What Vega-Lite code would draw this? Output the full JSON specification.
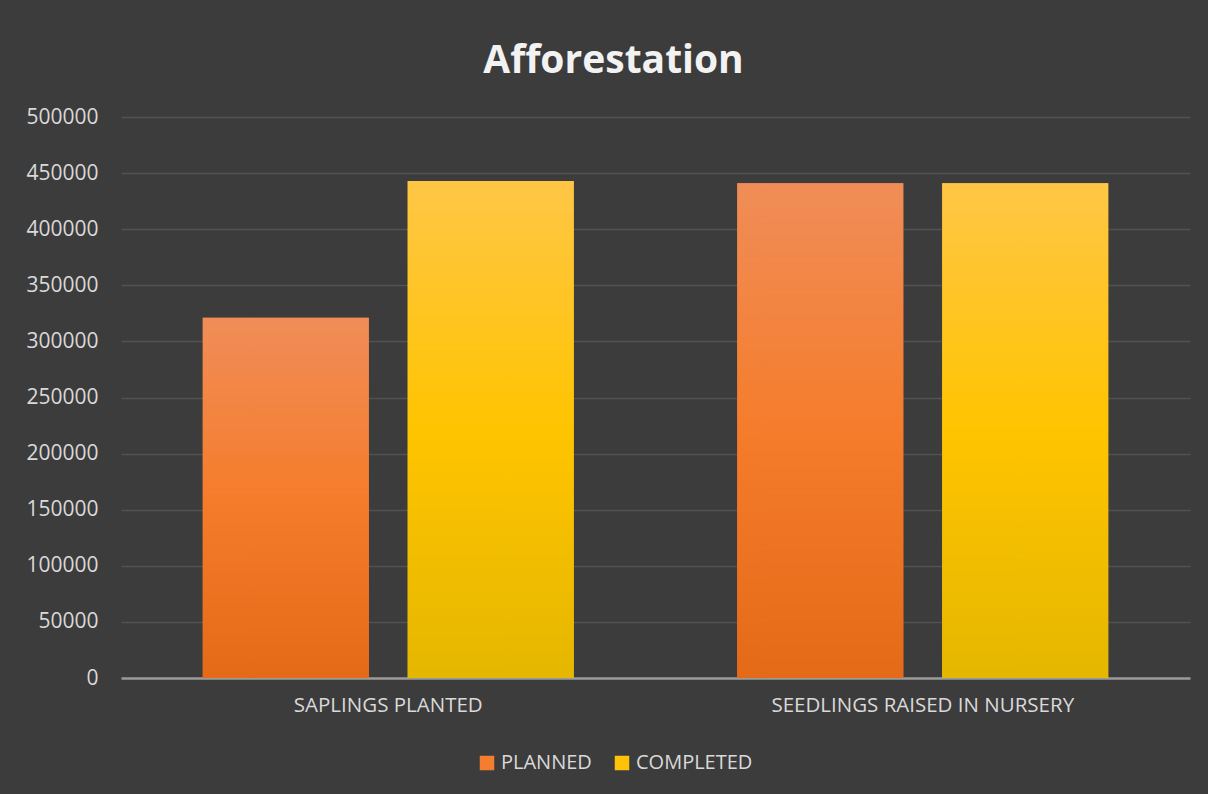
{
  "$schema": "https://vega.github.io/schema/vega-lite/v6.json",
  "width": 1069,
  "height": 561,
  "autosize": {"type": "none"},
  "padding": {"left": 121, "top": 117, "right": 18, "bottom": 116},
  "background": "#3c3c3c",
  "config": {"view": {"stroke": null}},
  "title": {
    "text": "Afforestation",
    "font": "Open Sans",
    "fontSize": 39,
    "fontWeight": "bold",
    "color": "#f2f2f2",
    "anchor": "middle",
    "dx": -42,
    "offset": 25
  },
  "data": {
    "values": [
      {"category": "SAPLINGS PLANTED", "series": "PLANNED", "value": 321000},
      {"category": "SAPLINGS PLANTED", "series": "COMPLETED", "value": 443000},
      {"category": "SEEDLINGS RAISED IN NURSERY", "series": "PLANNED", "value": 441000},
      {"category": "SEEDLINGS RAISED IN NURSERY", "series": "COMPLETED", "value": 441000}
    ]
  },
  "encoding": {
    "x": {
      "field": "category",
      "type": "nominal",
      "sort": null,
      "scale": {"paddingInner": 0.306, "paddingOuter": 0.153},
      "axis": {
        "title": null,
        "labelAngle": 0,
        "ticks": false,
        "labelPadding": 17,
        "labelLimit": 0,
        "labelFont": "Open Sans",
        "labelFontSize": 20.5,
        "labelColor": "#d9d9d9",
        "domainColor": "#9a9a9a",
        "domainWidth": 2.5,
        "grid": false
      }
    },
    "xOffset": {
      "field": "series",
      "type": "nominal",
      "sort": ["PLANNED", "COMPLETED"],
      "scale": {"paddingInner": 0.19, "paddingOuter": 0}
    },
    "y": {
      "field": "value",
      "type": "quantitative",
      "scale": {"domain": [0, 500000], "nice": false},
      "axis": {
        "title": null,
        "values": [0, 50000, 100000, 150000, 200000, 250000, 300000, 350000, 400000, 450000, 500000],
        "format": "d",
        "domain": false,
        "ticks": false,
        "labelPadding": 23,
        "labelFont": "Open Sans",
        "labelFontSize": 21,
        "labelColor": "#d9d9d9",
        "gridColor": "#525252",
        "gridWidth": 1.5
      }
    }
  },
  "layer": [
    {
      "mark": {"type": "bar"},
      "encoding": {
        "color": {
          "field": "series",
          "type": "nominal",
          "sort": ["PLANNED", "COMPLETED"],
          "scale": {"domain": ["PLANNED", "COMPLETED"], "range": ["#F37E30", "#FFC20A"]},
          "legend": {
            "title": null,
            "orient": "none",
            "direction": "horizontal",
            "legendX": 356,
            "legendY": 636,
            "padding": 0,
            "symbolType": "square",
            "symbolSize": 210,
            "symbolStrokeWidth": 0,
            "labelFont": "Open Sans",
            "labelFontSize": 20,
            "labelColor": "#d9d9d9",
            "labelOffset": 4,
            "columnPadding": 20
          }
        }
      }
    },
    {
      "mark": {"type": "bar"},
      "encoding": {
        "fill": {
          "condition": {
            "test": "datum.series === 'PLANNED'",
            "value": {"gradient": "linear", "x1": 0, "y1": 0, "x2": 0, "y2": 1, "stops": [{"offset": 0, "color": "#F08D58"}, {"offset": 0.5, "color": "#F57C2B"}, {"offset": 1, "color": "#E56A18"}]}
          },
          "value": {"gradient": "linear", "x1": 0, "y1": 0, "x2": 0, "y2": 1, "stops": [{"offset": 0, "color": "#FFC646"}, {"offset": 0.5, "color": "#FFC400"}, {"offset": 1, "color": "#E5B700"}]}
        }
      }
    }
  ]
}
